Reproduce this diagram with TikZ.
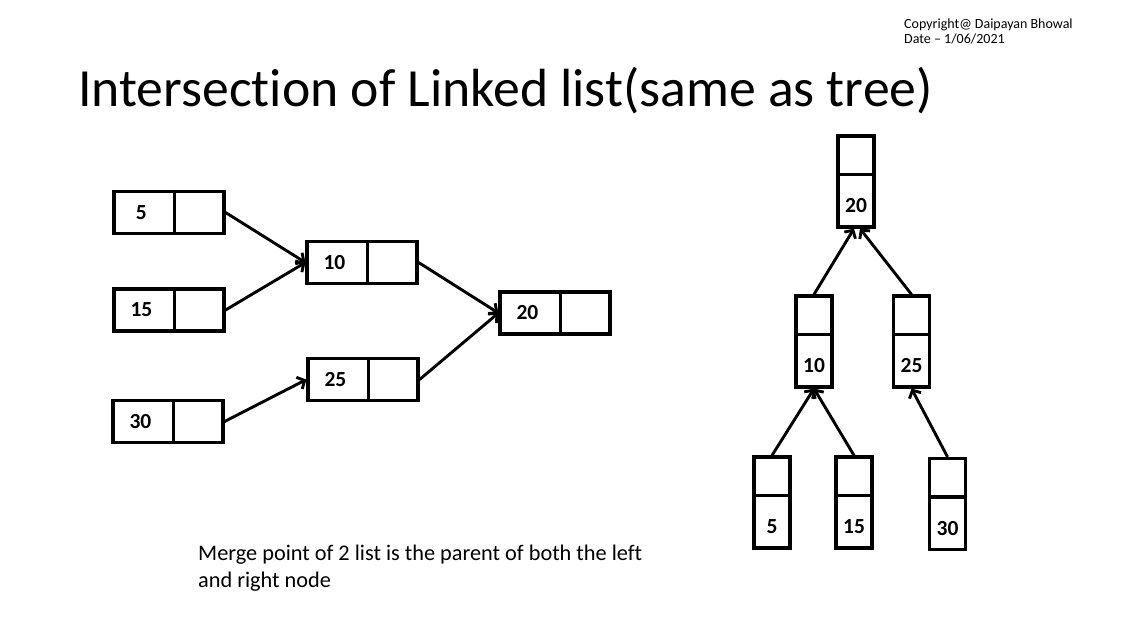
\documentclass[tikz,border=0pt]{standalone}
\usepackage{fontspec}
\setmainfont{Carlito}[Ligatures={NoCommon}]
\usetikzlibrary{arrows.meta,calc}
\tikzset{
  hbox/.style={draw, line width=3.2pt, minimum width=110pt, minimum height=42pt, inner sep=0pt},
  vbox/.style={draw, line width=3.2pt, minimum width=36pt, minimum height=91pt, inner sep=0pt},
  num/.style={font=\bfseries\fontsize{21.5}{24}\selectfont, inner sep=0pt},
  link/.style={line width=2.9pt, -{Straight Barb[length=6pt,width=13pt]}},
  divider/.style={line width=3.2pt}
}
\begin{document}
\begin{tikzpicture}[x=1pt,y=-1pt]
\useasboundingbox[fill=white] (0,0) rectangle (1123,632);
% header
\node[anchor=base west, inner sep=0pt, font=\fontsize{14}{16}\selectfont] (copy1) at (904,28) {Copyright@ Daipayan Bhowal};
\node[anchor=base west, inner sep=0pt, font=\fontsize{14}{16}\selectfont] (copy2) at (904,43) {Date – 1/06/2021};
\node[anchor=base west, inner sep=0pt, font=\fontsize{53.7}{60}\selectfont] (title) at (78,106) {Intersection of Linked list(same as tree)};
% left lists
\foreach \n/\x/\y in {l5/169/212.5, l15/169/310, l30/168/421.5, l10/362/262.5, l25/363/379.5, l20/555/313}{
  \node[hbox] (\n) at (\x,\y) {};
  \draw[divider] ($(\n.north west)+(62,0)$) -- ($(\n.south west)+(62,0)$);
}
\foreach \n/\t in {l5/5, l15/15, l30/30, l10/10, l25/25, l20/20}{
  \node[num] (\n t) at ($(\n.west)+(29,0)$) {\t};
}
\draw[link] (l5.east) -- (l10.west);
\draw[link] (l15.east) -- (l10.west);
\draw[link] (l30.east) -- (l25.west);
\draw[link] (l10.east) -- (l20.west);
\draw[link] (l25.east) -- (l20.west);
% tree
\foreach \n/\x/\y in {t20/856/181.5, t10/814/341.5, t25/911.5/341.5, t5/772/502.5, t15/854/502.5, t30/947.5/504}{
  \node[vbox] (\n) at (\x,\y) {};
  \draw[divider] ($(\n.north west)+(0,40)$) -- ($(\n.north east)+(0,40)$);
}
\foreach \n/\t in {t20/20, t10/10, t25/25, t5/5, t15/15, t30/30}{
  \node[num] (\n t) at ($(\n.south)+(0,-23)$) {\t};
}
\draw[link] (t5.north) -- (t10.south);
\draw[link] (t15.north) -- (t10.south);
\draw[link] (t10.north) -- ([xshift=-2pt]t20.south);
\draw[link] (t25.north) -- ([xshift=4pt]t20.south);
\draw[link] (t30.north) -- (t25.south);
% note
\node[anchor=base west, inner sep=0pt, align=left, font=\fontsize{22.3}{27}\selectfont] (note) at (198,587) {Merge point of 2 list is the parent of both the left\\and right node};
\end{tikzpicture}
\end{document}
